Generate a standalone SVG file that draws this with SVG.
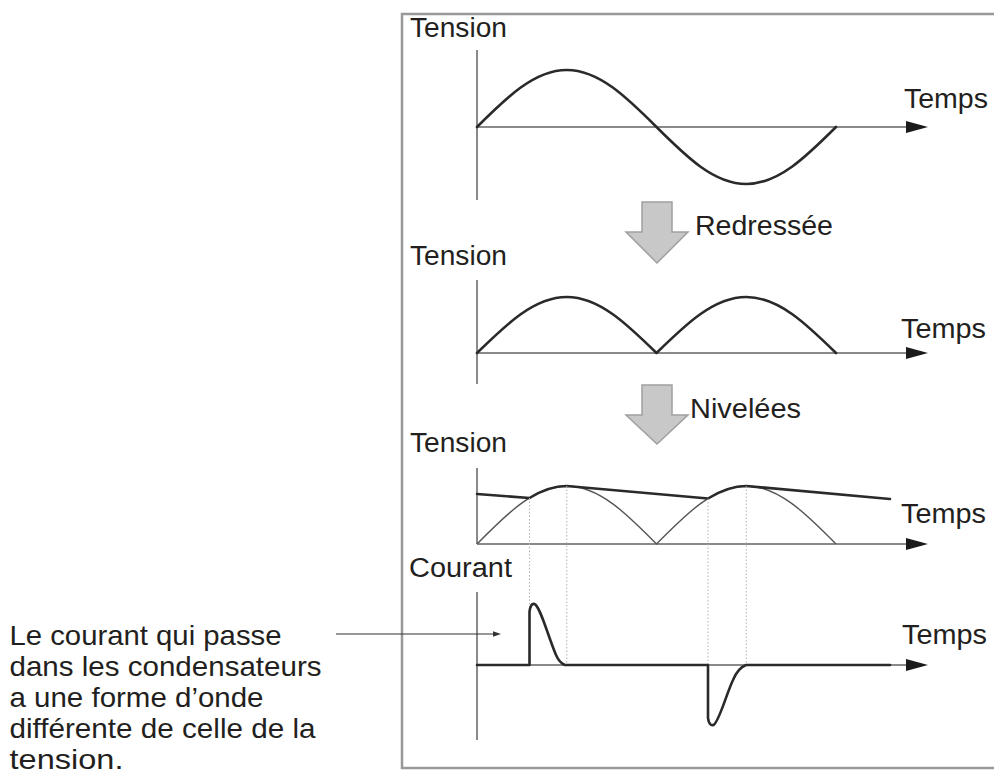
<svg xmlns="http://www.w3.org/2000/svg" width="994" height="770" viewBox="0 0 994 770">
  <style>
    text { font-family: "Liberation Sans", Arial, Helvetica, sans-serif; fill: #231f20; }
    .lbl { font-size: 27px; }
    .note { font-size: 28.5px; }
    .axis { stroke: #8a8a8a; stroke-width: 2; fill: none; }
    .wave { stroke: #2a2a2a; stroke-width: 2.6; fill: none; stroke-linejoin: round; stroke-linecap: round; }
    .thin { stroke: #555; stroke-width: 1.4; fill: none; }
    .dot { stroke: #b0b0b0; stroke-width: 1; stroke-dasharray: 1.5 2; fill: none; }
    .tip { fill: #1a1a1a; }
    .block { fill: #c8c8c8; stroke: #a0a0a0; stroke-width: 1.5; }
  </style>
  <defs>
    <polygon id="axtip" points="0,0 -22,-6 -22,6"/>
  </defs>
  <rect width="994" height="770" fill="#ffffff"/>
  <rect id="frame" x="402" y="14" width="600" height="754" fill="none" stroke="#999" stroke-width="2.5"/>

  <g id="panel-sine">
    <text class="lbl" x="410" y="37" textLength="97" lengthAdjust="spacingAndGlyphs">Tension</text>
    <line class="axis" x1="477" y1="50" x2="477" y2="200"/>
    <line class="axis" x1="477" y1="127" x2="910" y2="127"/>
    <use href="#axtip" class="tip" x="928" y="127"/>
    <text class="lbl" x="904" y="108" textLength="84" lengthAdjust="spacingAndGlyphs">Temps</text>
    <path class="wave" d="M477,127 C506.3,97.8 534.3,70 566.75,70 C599.2,70 627.2,97.8 656.5,127 C685.8,156.2 713.8,184 746.25,184 C778.7,184 806.7,156.2 836,127"/>
  </g>

  <g id="panel-rectified">
    <text class="lbl" x="410" y="265" textLength="97" lengthAdjust="spacingAndGlyphs">Tension</text>
    <line class="axis" x1="477" y1="280" x2="477" y2="384"/>
    <line class="axis" x1="477" y1="353" x2="910" y2="353"/>
    <use href="#axtip" class="tip" x="928" y="353"/>
    <text class="lbl" x="901" y="338" textLength="85" lengthAdjust="spacingAndGlyphs">Temps</text>
    <path class="wave" d="M477,353 C506.3,324.3 534.3,297 566.75,297 C599.2,297 627.2,324.3 656.5,353 C685.8,324.3 713.8,297 746.25,297 C778.7,297 806.7,324.3 836,353"/>
  </g>

  <g id="panel-smoothed">
    <text class="lbl" x="410" y="452" textLength="97" lengthAdjust="spacingAndGlyphs">Tension</text>
    <line class="axis" x1="477" y1="468" x2="477" y2="544"/>
    <line class="axis" x1="477" y1="544" x2="910" y2="544"/>
    <use href="#axtip" class="tip" x="928" y="544"/>
    <text class="lbl" x="901" y="523" textLength="85" lengthAdjust="spacingAndGlyphs">Temps</text>
    <path class="thin" d="M477,544 C506.3,514.3 534.3,486 566.75,486 C599.2,486 627.2,514.3 656.5,544 C685.8,514.3 713.8,486 746.25,486 C778.7,486 806.7,514.3 836,544"/>
    <path class="wave" d="M477,494 L529.5,498 C541.9,490.3 554.3,486 566.75,486 L708,498.5 C720.75,490.7 733.5,486 746.25,486 L890,499"/>
  </g>

  <g id="guides">
    <line class="dot" x1="529.5" y1="498" x2="529.5" y2="665"/>
    <line class="dot" x1="566.75" y1="486" x2="566.75" y2="665"/>
    <line class="dot" x1="708" y1="498.5" x2="708" y2="665"/>
    <line class="dot" x1="746.25" y1="486" x2="746.25" y2="665"/>
  </g>

  <g id="panel-current">
    <text class="lbl" x="409" y="577" textLength="103" lengthAdjust="spacingAndGlyphs">Courant</text>
    <line class="axis" x1="477" y1="592" x2="477" y2="740"/>
    <line class="axis" x1="477" y1="665" x2="910" y2="665"/>
    <use href="#axtip" class="tip" x="928" y="665"/>
    <text class="lbl" x="902" y="644" textLength="85" lengthAdjust="spacingAndGlyphs">Temps</text>
    <path class="wave" d="M477,665 L529.5,665 L529.5,612 Q530.5,603 534.5,604 C540,606 548,636 556,655 Q559.5,663 565,665 L708,665 L708,718 Q709,726 713.5,725 C719,722 726,695 733,680 Q738,668 746,665 L890,665" stroke-width="3"/>
  </g>

  <g id="note">
    <text class="note" x="9.5" y="645" textLength="272" lengthAdjust="spacingAndGlyphs">Le courant qui passe</text>
    <text class="note" x="9.5" y="676" textLength="312" lengthAdjust="spacingAndGlyphs">dans les condensateurs</text>
    <text class="note" x="9.5" y="707" textLength="254" lengthAdjust="spacingAndGlyphs">a une forme d’onde</text>
    <text class="note" x="9.5" y="738" textLength="306" lengthAdjust="spacingAndGlyphs">différente de celle de la</text>
    <text class="note" x="9.5" y="769" textLength="114" lengthAdjust="spacingAndGlyphs">tension.</text>
  </g>

  <g id="connectors">
    <g id="arrow-redressee">
      <polygon class="block" points="642,202 672,202 672,232 688,232 657,263 626,232 642,232"/>
      <text class="lbl" x="695" y="235" textLength="138" lengthAdjust="spacingAndGlyphs">Redressée</text>
    </g>
    <g id="arrow-nivelees">
      <polygon class="block" points="642,385 672,385 672,415 688,415 657,444 626,415 642,415"/>
      <text class="lbl" x="690" y="418" textLength="111" lengthAdjust="spacingAndGlyphs">Nivelées</text>
    </g>
    <g id="note-pointer">
      <line x1="336" y1="634" x2="494" y2="634" stroke="#333" stroke-width="1.2"/>
      <polygon points="501,634 493,631.3 493,636.7" fill="#333"/>
    </g>
  </g>
</svg>
